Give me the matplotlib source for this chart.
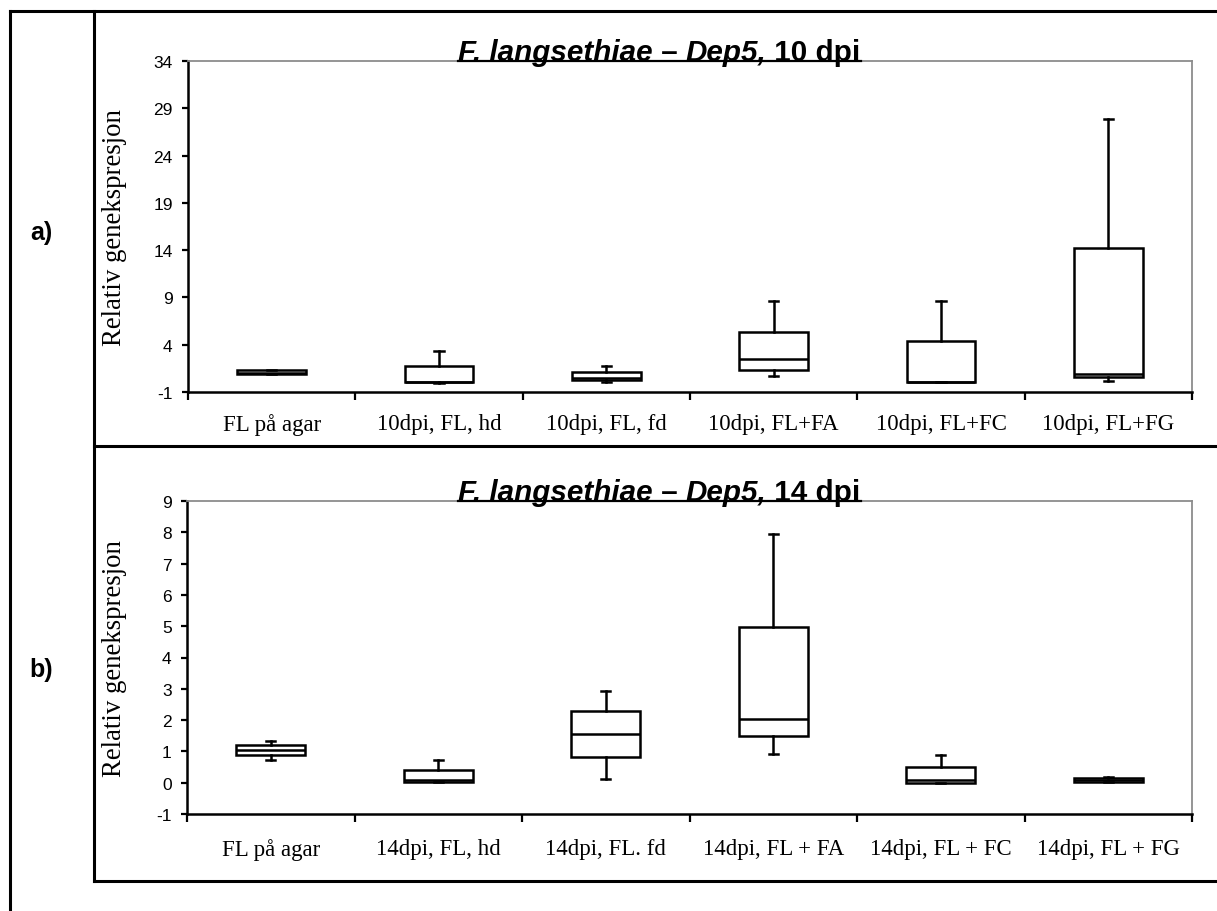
import matplotlib
matplotlib.use("Agg")
import matplotlib.pyplot as plt
from matplotlib.lines import Line2D
import numpy as np

# Data (relative gene expression)
labels_10 = ["FL på agar", "10dpi, FL, hd", "10dpi, FL, fd",
             "10dpi, FL+FA", "10dpi, FL+FC", "10dpi, FL+FG"]
whislo_10 = [0.9, 0.0, 0.1, 0.66, 0.08, 0.16]
q1_10 = [0.95, 0.05, 0.3, 1.37, 0.1, 0.59]
med_10 = [1.05, 0.05, 0.5, 2.46, 0.1, 0.87]
q3_10 = [1.3, 1.7, 1.15, 5.39, 4.34, 14.2]
whishi_10 = [1.35, 3.3, 1.7, 8.6, 8.6, 27.9]

labels_14 = ["FL på agar", "14dpi, FL, hd", "14dpi, FL. fd",
             "14dpi, FL + FA", "14dpi, FL + FC", "14dpi, FL + FG"]
whislo_14 = [0.73, 0.02, 0.12, 0.91, 0.0, 0.01]
q1_14 = [0.89, 0.02, 0.82, 1.48, 0.0, 0.02]
med_14 = [1.06, 0.09, 1.57, 2.05, 0.09, 0.08]
q3_14 = [1.22, 0.41, 2.29, 4.98, 0.49, 0.15]
whishi_14 = [1.32, 0.73, 2.94, 7.93, 0.9, 0.17]

yticks_10 = np.arange(-1, 35, 5)
yticks_14 = np.arange(-1, 10, 1)

plt.rcParams["font.family"] = "Liberation Sans"
plt.rcParams["axes.unicode_minus"] = False

W, H = 1217, 912
fig = plt.figure(figsize=(W / 100, H / 100), dpi=100)


def fx(x):
    return x / W


def fy(y):
    return 1 - y / H


def make_stats(lo, q1, med, q3, hi):
    return [dict(whislo=a, q1=b, med=c, q3=d, whishi=e, fliers=[])
            for a, b, c, d, e in zip(lo, q1, med, q3, hi)]


def panel(box, labels, stats, yticks, tail, letter, letter_y, xpad):
    l, t, r, b = box
    ax = fig.add_axes([fx(l), fy(b), (r - l) / W, (b - t) / H])
    lw = 1.8
    ax.bxp(stats, positions=range(6), widths=0.41, showfliers=False,
           patch_artist=True, manage_ticks=False, capwidths=0.055,
           boxprops=dict(facecolor="white", edgecolor="black", linewidth=lw),
           medianprops=dict(color="black", linewidth=lw),
           whiskerprops=dict(color="black", linewidth=lw),
           capprops=dict(color="black", linewidth=lw))
    ax.set_xlim(-0.5, 5.5)
    ax.set_ylim(yticks[0], yticks[-1])
    ax.set_yticks(yticks)
    ax.set_xticks(range(6))
    ax.set_xticklabels(labels, fontfamily="Liberation Serif", fontsize=16.5)
    ax.set_xticks(np.arange(-0.5, 6, 1), minor=True)
    ax.tick_params(axis="x", which="major", length=0, pad=xpad)
    ax.tick_params(axis="x", which="minor", length=6, width=1.6, direction="out")
    ax.tick_params(axis="y", length=4, width=1.6, direction="out",
                   labelsize=12.5, pad=7)
    for s in ["left", "bottom"]:
        ax.spines[s].set_linewidth(1.8)
        ax.spines[s].set_color("black")
    for s in ["top", "right"]:
        ax.spines[s].set_linewidth(1.3)
        ax.spines[s].set_color("#8c8c8c")
    ax.set_ylabel("Relativ genekspresjon", fontfamily="Liberation Serif",
                  fontsize=19.3)
    ax.yaxis.set_label_coords((127 - l) / (r - l), 0.5)

    # title in pieces: bold italic / bold
    renderer = fig.canvas.get_renderer()
    pieces = [("F. langsethiae", "italic"), (" – ", "normal"),
              ("Dep5,", "italic"), (" " + tail, "normal")]
    x = 458
    base = t - 1
    for txt, style in pieces:
        tt = fig.text(fx(x), fy(base), txt, fontsize=21.3, fontweight="bold",
                      fontstyle=style, ha="left", va="baseline")
        bb = tt.get_window_extent(renderer)
        x = bb.x1
    fig.add_artist(Line2D([fx(458), fx(x)], [fy(t), fy(t)], color="black",
                          linewidth=1.6, zorder=5))

    fig.text(fx(41), fy(letter_y), letter, fontsize=18, fontweight="bold",
             ha="center", va="center")
    return ax


panel((188, 62, 1192, 393), labels_10,
      make_stats(whislo_10, q1_10, med_10, q3_10, whishi_10),
      yticks_10, "10 dpi", "a)", 233, 15)
panel((187, 502, 1192, 815), labels_14,
      make_stats(whislo_14, q1_14, med_14, q3_14, whishi_14),
      yticks_14, "14 dpi", "b)", 670, 17)

# frame lines around the panels
frame_lw = 2.2
frame = [([10, 10], [12, 912]),
         ([10, 1217], [12, 12]),
         ([94, 94], [12, 882]),
         ([94, 1217], [446.7, 446.7]),
         ([94, 1217], [882, 882])]
for xs, ys in frame:
    fig.add_artist(Line2D([fx(v) for v in xs], [fy(v) for v in ys],
                          color="black", linewidth=frame_lw))

fig.savefig("out.png", dpi=100)
